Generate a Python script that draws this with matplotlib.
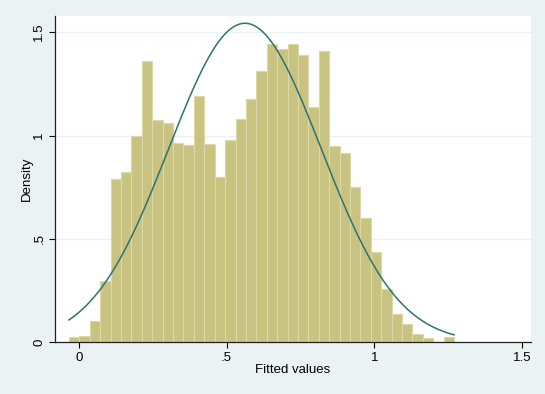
import numpy as np
import matplotlib.pyplot as plt

# histogram of fitted values: 37 bins, density scale
bin_start = -0.0339
bin_width = 0.03525
density = [0.024, 0.030, 0.103, 0.297, 0.790, 0.825, 0.997, 1.362, 1.074, 1.061,
           0.964, 0.955, 1.192, 0.959, 0.800, 0.979, 1.079, 1.176, 1.313, 1.445,
           1.419, 1.443, 1.390, 1.138, 1.409, 0.950, 0.916, 0.750, 0.600, 0.435,
           0.256, 0.137, 0.090, 0.039, 0.021, 0.0, 0.026]

# normal overlay parameters
mu = 0.562
sd = 0.2585
x_min = -0.0339
x_max = 1.2703

xticks = [0, 0.5, 1, 1.5]
xtick_labels = ['0', '.5', '1', '1.5']
yticks = [0, 0.5, 1, 1.5]
ytick_labels = ['0', '.5', '1', '1.5']

plt.rcParams['font.family'] = ['Liberation Sans', 'DejaVu Sans']

bg = '#EAF2F3'
fig = plt.figure(figsize=(5.45, 3.94), dpi=100, facecolor=bg)
ax = fig.add_axes([0.1009, 0.1312, 0.8734, 0.829])
ax.set_facecolor('white')

edges = bin_start + bin_width * np.arange(len(density))
ax.bar(edges, density, width=bin_width, align='edge',
       color='#C9C382', edgecolor='#DDD9A6', linewidth=0.8, zorder=2)

xs = np.linspace(x_min, x_max, 300)
ys = np.exp(-(xs - mu) ** 2 / (2 * sd ** 2)) / (sd * np.sqrt(2 * np.pi))
ax.plot(xs, ys, color='#2F7371', lw=1.1, zorder=3)

ax.set_xlim(-0.0813, 1.5307)
ax.set_ylim(0, 1.58)
ax.set_xticks(xticks)
ax.set_xticklabels(xtick_labels)
ax.set_yticks(yticks)
ax.set_yticklabels(ytick_labels, rotation=90, va='center')
ax.tick_params(axis='both', direction='out', length=4, width=0.8,
               labelsize=9.5, colors='black', pad=3)
ax.yaxis.grid(True, color=bg, lw=1.0, zorder=0)
ax.set_axisbelow(True)

for side in ['top', 'right']:
    ax.spines[side].set_visible(False)
for side in ['left', 'bottom']:
    ax.spines[side].set_linewidth(0.9)
    ax.spines[side].set_color('#222222')

ax.set_xlabel('Fitted values', fontsize=9.5)
ax.set_ylabel('Density', fontsize=9.5)
ax.xaxis.set_label_coords(0.5, -0.066)
ax.yaxis.set_label_coords(-0.046, 0.5)

fig.savefig('out.png', dpi=100, facecolor=bg)
